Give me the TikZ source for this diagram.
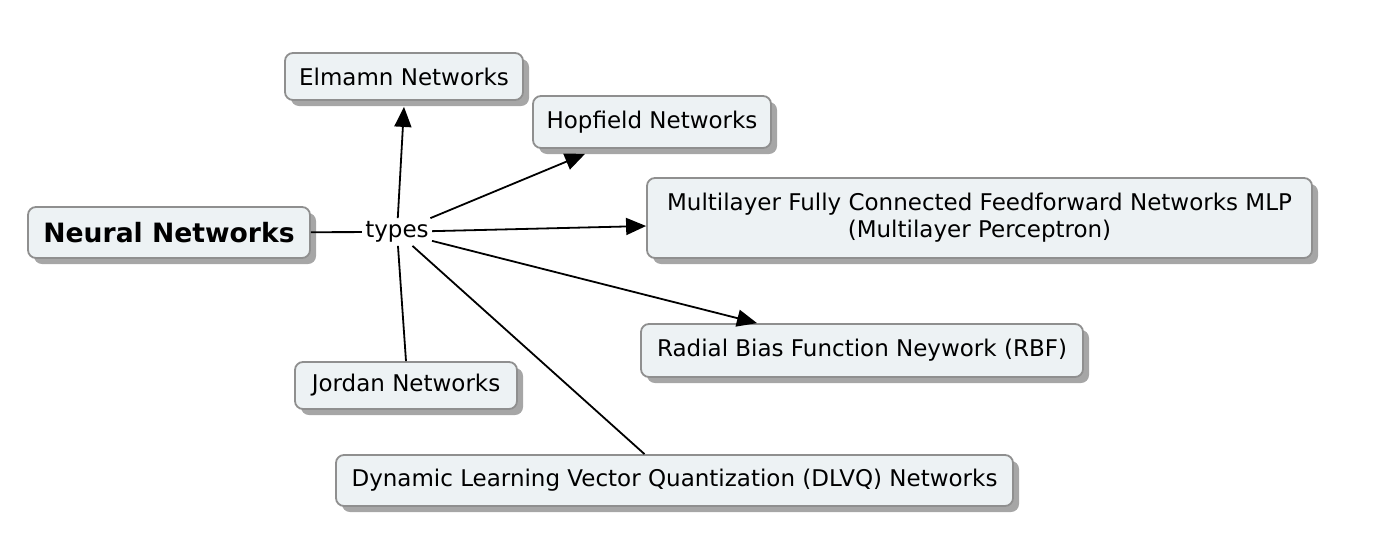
\documentclass[tikz,border=0pt]{standalone}
\usepackage{fontspec}
\setmainfont{DejaVu Sans}
\usetikzlibrary{arrows.meta, shadows, positioning}
\definecolor{boxfill}{HTML}{EDF2F4}
\definecolor{boxline}{HTML}{8F8F8F}
\definecolor{boxshade}{HTML}{A6A6A6}

\begin{document}
\begin{tikzpicture}[x=0.5pt, y=-0.5pt,
  box/.style={draw=boxline, line width=0.9pt, fill=boxfill, rounded corners=4pt, align=center, inner sep=0pt,
    font=\fontsize{11.5}{13.5}\selectfont,
    drop shadow={shadow xshift=3pt, shadow yshift=-3pt, fill=boxshade, opacity=1}},
  link/.style={line width=0.9pt},
  arr/.style={link, -{Triangle[length=10pt, width=8.5pt]}}]
\useasboundingbox (0,0) rectangle (1400,552);

% boxes
\node[box, minimum width=141pt, minimum height=25.5pt, font=\fontsize{13.3}{15}\selectfont\bfseries] (nn) at (169,232.5) {Neural Networks};
\node[box, minimum width=119pt, minimum height=23.5pt] (elm) at (404,76.5) {Elmamn Networks};
\node[box, minimum width=119pt, minimum height=26pt] (hop) at (652,122) {Hopfield Networks};
\node[box, minimum width=332.5pt, minimum height=40pt] (mlp) at (979.5,218) {Multilayer Fully Connected Feedforward Networks MLP\\(Multilayer Perceptron)};
\node[box, minimum width=221pt, minimum height=26.5pt] (rbf) at (862,350.5) {Radial Bias Function Neywork (RBF)};
\node[box, minimum width=111pt, minimum height=23.5pt] (jor) at (406,385.5) {Jordan Networks};
\node[box, minimum width=338.5pt, minimum height=25.5pt] (dlvq) at (674.5,480.5) {Dynamic Learning Vector Quantization (DLVQ) Networks};

\node[inner sep=1.5pt, font=\fontsize{11.5}{13}\selectfont] (types) at (397,232) {types};

% links
\draw[link] (nn) -- (types);
\draw[arr] (types) -- ([yshift=-3pt]elm.south);
\draw[arr] (types) -- ([xshift=-33.5pt, yshift=-2.5pt]hop.south);
\draw[arr] (types) -- ([yshift=-4pt]mlp.west);
\draw[arr] (types) -- ([xshift=-52.5pt]rbf.north);
\draw[link] (types) -- (jor.north);
\draw[link] (types) -- ([xshift=-15pt]dlvq.north);

\end{tikzpicture}
\end{document}
